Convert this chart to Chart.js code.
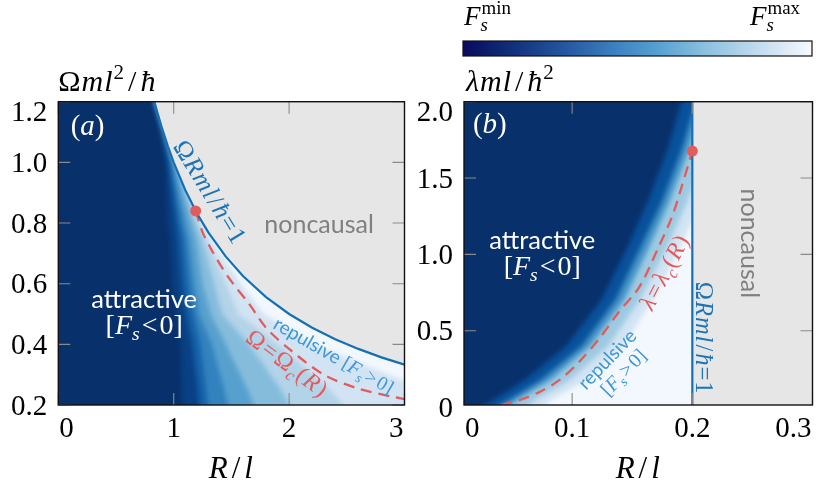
<!DOCTYPE html>
<html><head><meta charset="utf-8">
<script src="https://cdn.jsdelivr.net/npm/chart.js@4/dist/chart.umd.min.js"></script>
<style>
html,body{margin:0;padding:0;background:#fff;}
#wrap{position:relative;width:818px;height:493px;overflow:hidden;background:#fff;}
#ca{position:absolute;left:0;top:0;width:410px;height:493px;}
#cb{position:absolute;left:410px;top:0;width:408px;height:493px;}
</style></head><body>
<div id="wrap"><canvas id="ca" width="410" height="493"></canvas><canvas id="cb" width="408" height="493"></canvas></div>
<script>
// ================= DATA: panel (a) =================
const aXTicks = [0, 1, 2, 3];
const aXTickLabels = ['0', '1', '2', '3'];
const aYTicks = [0.2, 0.4, 0.6, 0.8, 1.0, 1.2];
const aYTickLabels = ['0.2', '0.4', '0.6', '0.8', '1.0', '1.2'];
// causality boundary  Omega R m l / hbar = 1
const aCausalR     = [0.833, 0.86, 0.9, 0.95, 1.0, 1.1, 1.2, 1.3, 1.45, 1.6, 1.8, 2.0, 2.2, 2.4, 2.6, 2.8, 3.0];
const aCausalOmega = [1.2, 1.163, 1.111, 1.053, 1.0, 0.909, 0.833, 0.769, 0.69, 0.625, 0.556, 0.5, 0.455, 0.417, 0.385, 0.357, 0.333];
// critical line Omega = Omega_c(R)
const aCritR     = [1.19, 1.25, 1.33, 1.47, 1.66, 1.8, 2.0, 2.3, 2.6, 2.9, 3.0];
const aCritOmega = [0.84, 0.77, 0.71, 0.623, 0.53, 0.455, 0.385, 0.30, 0.254, 0.227, 0.22];
const aDotR = [1.19];
const aDotOmega = [0.84];
// heat map read as iso-colour lines: R position of each colour level on each Omega row
const aRowsOmega = [1.3, 1.2, 1.1, 1.0, 0.8, 0.75, 0.6, 0.5, 0.4, 0.25, 0.1];
const aLevels = [0, 0.125, 0.25, 0.375, 0.5, 0.625, 0.75, 0.875];
const aLevelR = [
  [0.78, 0.82, 0.885, 0.93, 0.95, 0.97, 0.99, 1.03, 1.06, 1.07, 1.09],
  [0.785, 0.825, 0.895, 0.955, 1.02, 1.04, 1.07, 1.11, 1.16, 1.21, 1.24],
  [0.79, 0.83, 0.905, 0.975, 1.06, 1.09, 1.13, 1.17, 1.23, 1.28, 1.32],
  [0.795, 0.835, 0.915, 0.99, 1.10, 1.13, 1.18, 1.22, 1.33, 1.44, 1.53],
  [0.80, 0.84, 0.925, 1.01, 1.15, 1.19, 1.25, 1.32, 1.45, 1.64, 1.80],
  [0.805, 0.845, 0.935, 1.03, 1.19, 1.24, 1.35, 1.42, 1.65, 1.93, 2.15],
  [0.81, 0.85, 0.945, 1.05, 1.22, 1.28, 1.45, 1.56, 1.90, 2.35, 2.70],
  [0.815, 0.855, 0.955, 1.07, 1.26, 1.32, 1.58, 1.78, 2.20, 3.20, 3.80]
];

// ================= DATA: panel (b) =================
const bXTicks = [0, 0.1, 0.2, 0.3];
const bXTickLabels = ['0', '0.1', '0.2', '0.3'];
const bYTicks = [0, 0.5, 1.0, 1.5, 2.0];
const bYTickLabels = ['0', '0.5', '1.0', '1.5', '2.0'];
const bCausalR      = [0.2, 0.2];
const bCausalLambda = [0.0, 2.0];
const bCritR      = [0.041, 0.0563, 0.073, 0.0895, 0.106, 0.1227, 0.139, 0.156, 0.172, 0.183, 0.191, 0.2];
const bCritLambda = [0.014, 0.047, 0.10, 0.178, 0.298, 0.45, 0.625, 0.788, 1.05, 1.245, 1.44, 1.677];
const bDotR = [0.2];
const bDotLambda = [1.677];
const bRowsLambda = [-0.05, 0.05, 0.178, 0.4, 0.7, 1.03, 1.35, 1.68, 2.05];
const bLevels = [0, 0.25, 0.5, 0.75, 0.875];
const bLevelR = [
  [0.012, 0.035, 0.0605, 0.095, 0.124, 0.145, 0.163, 0.179, 0.193],
  [0.027, 0.048, 0.074, 0.108, 0.136, 0.156, 0.175, 0.191, 0.205],
  [0.036, 0.055, 0.082, 0.115, 0.143, 0.163, 0.181, 0.197, 0.211],
  [0.054, 0.070, 0.098, 0.130, 0.156, 0.178, 0.196, 0.211, 0.225],
  [0.070, 0.083, 0.112, 0.142, 0.167, 0.189, 0.207, 0.222, 0.235]
];

// ================= STYLE =================
const SERIF = '"Liberation Serif", "DejaVu Serif", serif';
const SANS = 'Lato, "Liberation Sans", sans-serif';
const GRAY = '#e6e6e6';
const LINE_BLUE = '#1470b5';
const TEXT_BLUE = '#1a74b9';
const REP_BLUE = '#3f97d5';
const RED = '#e35b5b';
const BLUES = ['#08306b', '#08519c', '#2171b5', '#4292c6', '#6baed6', '#9ecae1', '#c6dbef', '#deebf7', '#f7fbff'];

function hex(c){return [parseInt(c.substr(1,2),16),parseInt(c.substr(3,2),16),parseInt(c.substr(5,2),16)];}
function cmap(t){
  t=Math.max(0,Math.min(1,t)); const n=BLUES.length-1; const f=t*n; const i=Math.min(n-1,Math.floor(f)); const u=f-i;
  const a=hex(BLUES[i]), b=hex(BLUES[i+1]);
  return 'rgb('+a.map((v,k)=>Math.round(v+(b[k]-v)*u)).join(',')+')';
}
function bandColors(levels){
  const out=[cmap(0)];
  for(let k=1;k<levels.length;k++) out.push(cmap((levels[k-1]+levels[k])/2));
  out.push(cmap(0.975));
  return out;
}

function drawRich(ctx, segs, x, y, o){
  const size=o.size;
  const fnt=(g,sz)=>(g.i?'italic ':'')+sz+'px '+(g.f==='sans'?SANS:SERIF);
  const szOf=g=>(g.k||1)*((g.sub||g.sup)?size*0.7:size);
  ctx.save();
  ctx.letterSpacing = (o.ls||0)+'px';
  let total=0; const ws=[];
  for(const g of segs){ctx.font=fnt(g,szOf(g)); const w=g.noAdv?0:ctx.measureText(g.t).width+(g.gap||0)+(g.after||0); ws.push(w); total+=w;}
  ctx.translate(x,y); ctx.rotate((o.angle||0)*Math.PI/180);
  let cx=o.align==='left'?0:o.align==='right'?-total:-total/2;
  const base=o.baseline?0:size*0.33;
  ctx.fillStyle=o.color; ctx.textBaseline='alphabetic'; ctx.textAlign='left';
  segs.forEach((g,i)=>{
    ctx.font=fnt(g,szOf(g));
    const dy=g.sub?size*0.22:g.sup?-size*0.4:0;
    ctx.fillText(g.t,cx+(g.gap||0),base+dy);
    cx+=ws[i];
  });
  ctx.restore();
}

function pts(xs,ys){return xs.map((v,i)=>({x:v,y:ys[i]}));}

function makePlugin(cfg){
  return {
    id:'panel'+cfg.name,
    beforeDatasetsDraw(chart){
      const {ctx, chartArea:ca, scales:{x,y}}=chart;
      ctx.save();
      ctx.fillStyle=GRAY; ctx.fillRect(ca.left,ca.top,ca.width,ca.height);
      const off=document.createElement('canvas'); off.width=chart.width; off.height=chart.height;
      const o=off.getContext('2d');
      const cols=bandColors(cfg.levels);
      o.fillStyle=cols[cols.length-1]; o.fillRect(0,0,off.width,off.height);
      for(let k=cfg.levelR.length-1;k>=0;k--){
        const c=cfg.levelR[k];
        o.beginPath();
        c.forEach((r,i)=>{const px=x.getPixelForValue(r), py=y.getPixelForValue(cfg.rows[i]); i?o.lineTo(px,py):o.moveTo(px,py);});
        o.lineTo(-60,y.getPixelForValue(cfg.rows[cfg.rows.length-1]));
        o.lineTo(-60,y.getPixelForValue(cfg.rows[0]));
        o.closePath(); o.fillStyle=cols[k]; o.fill();
      }
      ctx.beginPath(); ctx.rect(ca.left,ca.top,ca.width,ca.height); ctx.clip();
      ctx.beginPath(); cfg.clip(ctx,x,y,ca); ctx.clip();
      ctx.filter='blur(2.5px)';
      ctx.drawImage(off,0,0);
      ctx.restore();
    },
    afterDatasetsDraw(chart){
      const {ctx, chartArea:ca, scales:{x,y}}=chart;
      for(const a of cfg.notes){
        drawRich(ctx,a.segs,x.getPixelForValue(a.x),y.getPixelForValue(a.y),{size:a.size,color:a.color,angle:a.angle||0,ls:a.ls||0});
      }
      ctx.save(); ctx.strokeStyle='#8a8a8a'; ctx.lineWidth=1.1;
      const L=12;
      for(const t of cfg.xTicks){ if(t<x.min||t>x.max) continue; const p=x.getPixelForValue(t);
        ctx.beginPath(); ctx.moveTo(p,ca.bottom); ctx.lineTo(p,ca.bottom-L); ctx.moveTo(p,ca.top); ctx.lineTo(p,ca.top+L); ctx.stroke(); }
      for(const t of cfg.yTicks){ if(t<y.min||t>y.max) continue; const p=y.getPixelForValue(t);
        ctx.beginPath(); ctx.moveTo(ca.left,p); ctx.lineTo(ca.left+L,p); ctx.moveTo(ca.right,p); ctx.lineTo(ca.right-L,p); ctx.stroke(); }
      ctx.restore();
      ctx.save(); ctx.strokeStyle='#111'; ctx.lineWidth=1.4; ctx.strokeRect(ca.left,ca.top,ca.width,ca.height); ctx.restore();
      ctx.save(); ctx.fillStyle='#000'; ctx.font='29px '+SERIF; ctx.textBaseline='alphabetic';
      cfg.xTicks.forEach((t,i)=>{
        const lab=cfg.xLabels[i]; const w=ctx.measureText(lab).width; let p=x.getPixelForValue(t)-w/2;
        p=Math.max(ca.left+1,Math.min(ca.right-1-w,p));
        ctx.textAlign='left'; ctx.fillText(lab,p,ca.bottom+32);
      });
      cfg.yTicks.forEach((t,i)=>{
        const lab=cfg.yLabels[i]; let c=y.getPixelForValue(t); c=Math.max(ca.top+9.6,c);
        ctx.textAlign='right'; ctx.fillText(lab,ca.left-11,c+9.6);
      });
      ctx.restore();
      drawRich(ctx,cfg.yTitle,ca.left+cfg.yTitleDx,91,{size:30,color:'#000',align:'left',baseline:true,ls:1});
      drawRich(ctx,[{t:'R',i:1},{t:'/',gap:3,after:3},{t:'l',i:1}],(ca.left+ca.right)/2,478,{size:31,color:'#000',baseline:true,ls:1});
      if(cfg.extra) cfg.extra(chart);
    }
  };
}

const FS_LT=[{t:'['},{t:'F',i:1},{t:'s',i:1,sub:1},{t:'<',gap:2,after:2},{t:'0'},{t:']'}];
const FS_GT=[{t:'['},{t:'F',i:1},{t:'s',i:1,sub:1},{t:'>',gap:2,after:2},{t:'0'},{t:']'}];
const CAUSAL_TXT=[{t:'Ω'},{t:'Rml',i:1},{t:'/',gap:1,after:1},{t:'ħ',i:1},{t:'=1'}];

const cfgA={
  name:'A', rows:aRowsOmega, levels:aLevels, levelR:aLevelR,
  xTicks:aXTicks, xLabels:aXTickLabels, yTicks:aYTicks, yLabels:aYTickLabels,
  yTitle:[{t:'Ω'},{t:'ml',i:1},{t:'2',sup:1},{t:'/',gap:3,after:3},{t:'ħ',i:1}], yTitleDx:0,
  clip(ctx,x,y,ca){
    ctx.moveTo(ca.left-5,y.getPixelForValue(aCausalOmega[0])-2);
    aCausalR.forEach((r,i)=>ctx.lineTo(x.getPixelForValue(r),y.getPixelForValue(aCausalOmega[i])));
    ctx.lineTo(ca.right+5,y.getPixelForValue(aCausalOmega[aCausalOmega.length-1]));
    ctx.lineTo(ca.right+5,ca.bottom+5); ctx.lineTo(ca.left-5,ca.bottom+5); ctx.closePath();
  },
  notes:[
    {segs:[{t:'('},{t:'a',i:1},{t:')'}],x:0.254,y:1.123,size:29,color:'#fff'},
    {segs:[{t:'attractive',f:'sans'}],x:0.744,y:0.546,size:25.5,color:'#fff'},
    {segs:FS_LT,x:0.744,y:0.464,size:28,color:'#fff'},
    {segs:[{t:'noncausal',f:'sans'}],x:2.26,y:0.793,size:25,color:'#808080'},
    {segs:CAUSAL_TXT,x:1.317,y:0.902,size:25.5,color:TEXT_BLUE,angle:58.6,ls:1},
    {segs:[{t:'repulsive ',f:'sans',k:0.86}].concat(FS_GT.map(g=>Object.assign({},g,{k:0.9}))),x:2.39,y:0.365,size:22,color:REP_BLUE,angle:29.8},
    {segs:[{t:'Ω'},{t:'=',gap:1,after:1},{t:'Ω'},{t:'c',i:1,sub:1},{t:'('},{t:'R',i:1},{t:')'}],x:1.985,y:0.338,size:24,color:RED,angle:37,ls:1}
  ]
};

const cfgB={
  name:'B', rows:bRowsLambda, levels:bLevels, levelR:bLevelR,
  xTicks:bXTicks, xLabels:bXTickLabels, yTicks:bYTicks, yLabels:bYTickLabels,
  yTitle:[{t:'λml',i:1},{t:'/',gap:3,after:3},{t:'ħ',i:1},{t:'2',sup:1}], yTitleDx:2,
  clip(ctx,x,y,ca){ ctx.rect(ca.left-5,ca.top-5,x.getPixelForValue(bCausalR[0])-ca.left+5,ca.height+10); },
  notes:[
    {segs:[{t:'('},{t:'b',i:1},{t:')'}],x:0.0315,y:1.857,size:29,color:'#fff'},
    {segs:[{t:'attractive',f:'sans'}],x:0.0751,y:1.093,size:25.5,color:'#fff'},
    {segs:FS_LT,x:0.0751,y:0.929,size:28,color:'#fff'},
    {segs:[{t:'noncausal',f:'sans'}],x:0.247,y:1.073,size:25,color:'#808080',angle:90},
    {segs:CAUSAL_TXT,x:0.2097,y:0.452,size:24.5,color:TEXT_BLUE,angle:90,ls:1},
    {segs:[{t:'λ',i:1},{t:'=',gap:1,after:1},{t:'λ',i:1},{t:'c',i:1,sub:1},{t:'('},{t:'R',i:1},{t:')'}],x:0.1765,y:0.886,size:24,color:RED,angle:-62.5,ls:1},
    {segs:[{t:'repulsive',f:'sans'}],x:0.1293,y:0.3123,size:19,color:REP_BLUE,angle:-46},
    {segs:FS_GT,x:0.1425,y:0.227,size:20,color:REP_BLUE,angle:-46}
  ],
  extra(chart){
    const ctx=chart.ctx; const x0=53, x1=402, y0=41, y1=56;
    const g=ctx.createLinearGradient(x0,0,x1,0);
    const stops=[[0,'#0a0a5e'],[0.12,'#0f2a76'],[0.3,'#2559a3'],[0.45,'#3f85c3'],[0.55,'#549fd0'],[0.7,'#8dc1e0'],[0.85,'#c3dcee'],[1,'#f6fafe']];
    stops.forEach(s=>g.addColorStop(s[0],s[1]));
    ctx.save(); ctx.fillStyle=g; ctx.fillRect(x0,y0,x1-x0,y1-y0);
    ctx.strokeStyle='#111'; ctx.lineWidth=1.2; ctx.strokeRect(x0,y0,x1-x0,y1-y0); ctx.restore();
    drawRich(ctx,[{t:'F',i:1},{t:'s',i:1,sub:1,noAdv:1},{t:'min',sup:1,gap:1}],x0+1,25,{size:27,color:'#000',align:'left',baseline:true});
    drawRich(ctx,[{t:'F',i:1},{t:'s',i:1,sub:1,noAdv:1},{t:'max',sup:1,gap:1}],390,25,{size:27,color:'#000',align:'right',baseline:true});
  }
};

function makeChart(id,cfg,xr,yr,pad,sets){
  return new Chart(document.getElementById(id),{
    type:'scatter',
    data:{datasets:sets},
    options:{
      responsive:false, animation:false, events:[],
      layout:{padding:pad},
      plugins:{legend:{display:false},tooltip:{enabled:false}},
      scales:{
        x:{type:'linear',min:xr[0],max:xr[1],display:false},
        y:{type:'linear',min:yr[0],max:yr[1],display:false}
      }
    },
    plugins:[makePlugin(cfg)]
  });
}

function lineSets(dotR,dotY,causR,causY,critR,critY,tension){
  return [
    {data:pts(dotR,dotY),showLine:false,pointRadius:5.5,pointBackgroundColor:RED,pointBorderWidth:0},
    {data:pts(causR,causY),showLine:true,borderColor:LINE_BLUE,borderWidth:2.2,pointRadius:0,tension:0},
    {data:pts(critR,critY),showLine:true,borderColor:RED,borderWidth:2.3,borderDash:[11,7],pointRadius:0,tension:tension}
  ];
}

makeChart('ca',cfgA,[0,3],[0.2,1.2],{left:58.3,right:1.7,top:101.7,bottom:88},
  lineSets(aDotR,aDotOmega,aCausalR,aCausalOmega,aCritR,aCritOmega,0.3));
makeChart('cb',cfgB,[0.01,0.3],[0.014,2.0],{left:54,right:4.5,top:101.7,bottom:88},
  lineSets(bDotR,bDotLambda,bCausalR,bCausalLambda,bCritR,bCritLambda,0.3));
</script>
</body></html>
